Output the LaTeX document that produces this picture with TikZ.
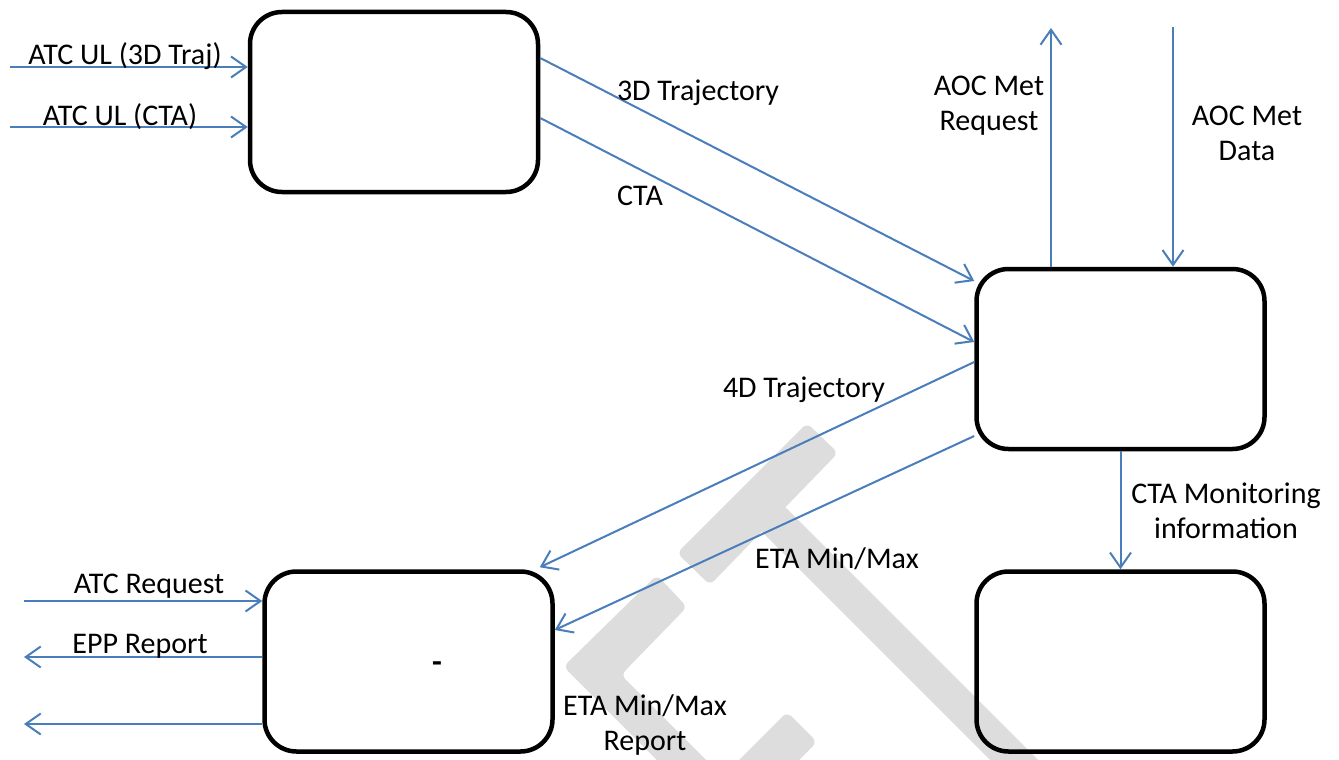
\documentclass[tikz,border=0pt]{standalone}
\usepackage{fontspec}
\setmainfont{Carlito}
\usetikzlibrary{arrows.meta}
\definecolor{lnblue}{RGB}{74,126,187}
\definecolor{wmgray}{RGB}{221,221,221}
\begin{document}
\begin{tikzpicture}[x=1pt,y=-1pt,
  box/.style={draw=black, line width=4.5pt, rounded corners=32pt, minimum width=288pt, minimum height=180pt, inner sep=0pt},
  flow/.style={draw=lnblue, line width=2pt, -{Straight Barb[length=15pt,width=21pt,line width=2pt]}},
  lbl/.style={font=\fontsize{30}{35}\selectfont, inner sep=0pt, anchor=base, align=center},
  wm/.style={fill=wmgray, rounded corners=6pt}]
\useasboundingbox (0,0) rectangle (1339,760);
% watermark
\begin{scope}
\clip (0,0) rectangle (1339,760);
\fill[wm] (807,423) -- (838,453) -- (710,585) -- (677,553) -- cycle;
\fill[wmgray] (779,501) -- (1060,782) -- (1012,782) -- (755,525) -- cycle;
\fill[wm] (657,575) -- (563.5,666.5) -- (677,780) -- (726,780) -- (621,675) -- (687,607) -- cycle;
\fill[wm] (787,712) -- (817,742) -- (779,780) -- (719,780) -- cycle;
\end{scope}
% boxes
\node[box] (b1) at (394,102) {};
\node[box] (b2) at (1120.5,359) {};
\node[box] (b3) at (408.5,661.5) {};
\node[box] (b4) at (1120.5,661.5) {};
% free ends
\coordinate (s1) at (10,67);
\coordinate (s2) at (10,127);
\coordinate (o1) at (1051,28);
\coordinate (o2) at (1173,27);
\coordinate (r1) at (24,601);
\coordinate (r2) at (24,657);
\coordinate (r3) at (24,724);
% connectors
\draw[flow] (s1) -- (s1 -| b1.west);
\draw[flow] (s2) -- (s2 -| b1.west);
\draw[flow] (b1.east |- 0,58) -- (b2.west |- 0,281);
\draw[flow] (b1.east |- 0,118) -- (b2.west |- 0,342);
\draw[flow] (b2.north -| o1) -- (o1);
\draw[flow] (o2) -- (b2.north -| o2);
\draw[flow] (b2.west |- 0,362) -- ([shift={(-15,-2)}]b3.north east);
\draw[flow] (b2.west |- 0,436) -- (b3.east |- 0,630);
\draw[flow] (b2.south) -- (b4.north);
\draw[flow] (r1) -- (r1 -| b3.west);
\draw[flow] (r2 -| b3.west) -- (r2);
\draw[flow] (r3 -| b3.west) -- (r3);
% labels
\node[lbl] (l1) at (125,65) {ATC UL (3D Traj)};
\node[lbl] (l2) at (120,125) {ATC UL (CTA)};
\node[lbl] (l3) at (698,100) {3D Trajectory};
\node[lbl] (l4) at (640,205) {CTA};
\node[lbl] (l5) at (989,130) {AOC Met\\Request};
\node[lbl] (l6) at (1247,160) {AOC Met\\Data};
\node[lbl] (l7) at (804,397) {4D Trajectory};
\node[lbl] (l8) at (837,568) {ETA Min/Max};
\node[lbl] (l9) at (1226,538) {CTA Monitoring\\information};
\node[lbl] (l10) at (149,593) {ATC Request};
\node[lbl] (l11) at (140,653) {EPP Report};
\node[lbl] (l12) at (645,750) {ETA Min/Max\\Report};
\node[font=\fontsize{32}{35}\selectfont\bfseries, inner sep=0pt] (dash) at (437,667) {-};
\end{tikzpicture}
\end{document}
